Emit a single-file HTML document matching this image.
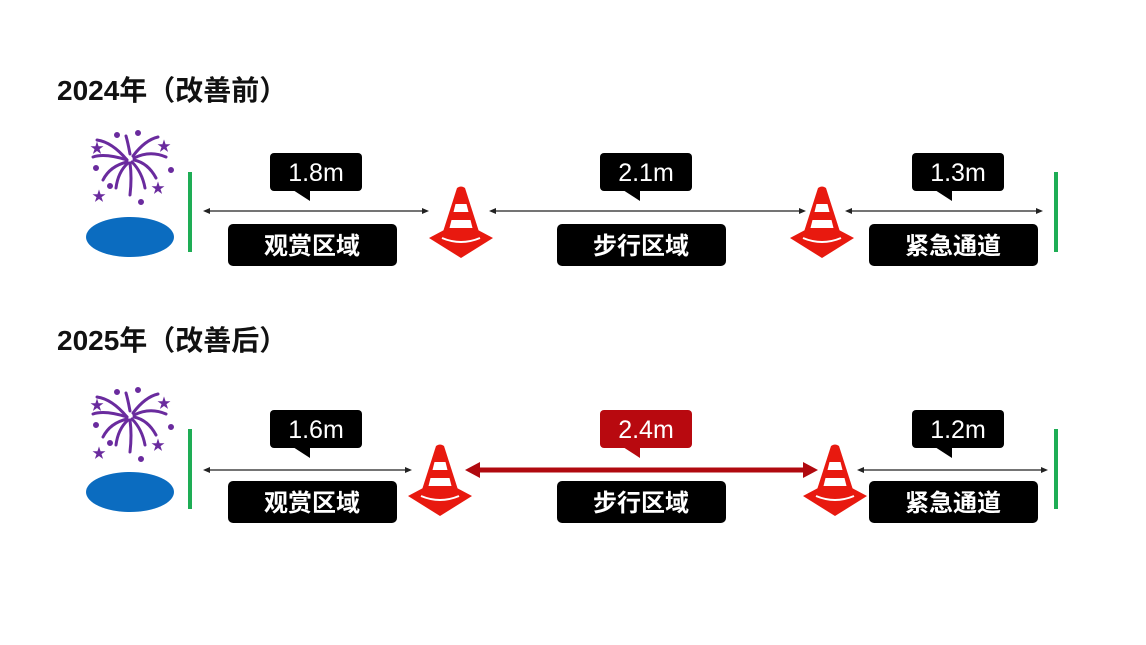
<!DOCTYPE html>
<html><head><meta charset="utf-8"><style>
html,body{margin:0;padding:0;background:#fff;}
svg{display:block;}
text{font-family:"Liberation Sans","Noto Sans CJK SC",sans-serif;}
</style></head><body>
<svg width="1146" height="645" viewBox="0 0 1146 645" xmlns="http://www.w3.org/2000/svg">
<defs>
<g id="cone">
  <path d="M-32,50 L0,33 L32,50 L0,70 Z" fill="#e8190f"/>
  <path d="M-4,0 Q0,-3 4,0 L20,50 Q0,58 -20,50 Z" fill="#e8190f"/>
  <path d="M-19,50 Q0,58 19,50" stroke="#fff" stroke-width="2" fill="none"/>
  <path d="M-5.5,16 L5.5,16 L7.5,24 L-7.5,24 Z" fill="#fff"/>
  <path d="M-9.5,32 L9.5,32 L11.5,40 L-11.5,40 Z" fill="#fff"/>
</g>
<g id="fw" stroke="#6a2b9e" stroke-width="3" stroke-linecap="round" fill="none">
  <path d="M127,160 Q112,142 97,140"/>
  <path d="M127,160 Q105,153 93,157"/>
  <path d="M127,162 Q110,166 103,180"/>
  <path d="M128,163 Q118,172 116,188"/>
  <path d="M130,163 Q132,178 130,195"/>
  <path d="M132,162 Q142,172 145,188"/>
  <path d="M134,160 Q148,163 156,178"/>
  <path d="M134,158 Q150,150 166,157"/>
  <path d="M133,156 Q145,140 158,137"/>
  <path d="M130,154 Q128,143 126,136"/>
  <circle cx="117" cy="135" r="1.5" fill="#6a2b9e"/>
  <circle cx="138" cy="133" r="1.5" fill="#6a2b9e"/>
  <circle cx="96" cy="168" r="1.5" fill="#6a2b9e"/>
  <circle cx="171" cy="170" r="1.5" fill="#6a2b9e"/>
  <circle cx="141" cy="202" r="1.5" fill="#6a2b9e"/>
  <circle cx="110" cy="186" r="1.5" fill="#6a2b9e"/>
</g>
</defs>

<text x="57" y="100" font-size="28" font-weight="bold" fill="#111">2024年（改善前）</text>
<text x="57" y="350" font-size="28" font-weight="bold" fill="#111">2025年（改善后）</text>

<!-- ROW 1 -->
<use href="#fw"/>
<g fill="#6a2b9e" font-size="14" font-family="DejaVu Sans"><text x="90" y="153">★</text><text x="157" y="151">★</text><text x="92" y="201">★</text><text x="151" y="193">★</text></g>
<ellipse cx="130" cy="237" rx="44" ry="20" fill="#0b6cc0"/>
<rect x="188" y="172" width="4" height="80" fill="#1ead55"/>
<rect x="1054" y="172" width="4" height="80" fill="#1ead55"/>

<g stroke="#222" stroke-width="1.3">
<line x1="206" y1="211" x2="426" y2="211"/>
<line x1="492" y1="211" x2="803" y2="211"/>
<line x1="848" y1="211" x2="1040" y2="211"/>
</g>
<g fill="#222">
<path d="M203,211 L210,208 L210,214Z"/><path d="M429,211 L422,208 L422,214Z"/>
<path d="M489,211 L496,208 L496,214Z"/><path d="M806,211 L799,208 L799,214Z"/>
<path d="M845,211 L852,208 L852,214Z"/><path d="M1043,211 L1036,208 L1036,214Z"/>
</g>

<use href="#cone" x="461" y="188"/>
<use href="#cone" x="822" y="188"/>

<g fill="#000">
<rect x="270" y="153" width="92" height="38" rx="4"/><path d="M293,190 L310,190 L310,201 Z"/>
<rect x="600" y="153" width="92" height="38" rx="4"/><path d="M623,190 L640,190 L640,201 Z"/>
<rect x="912" y="153" width="92" height="38" rx="4"/><path d="M935,190 L952,190 L952,201 Z"/>
<rect x="228" y="224" width="169" height="42" rx="5"/>
<rect x="557" y="224" width="169" height="42" rx="5"/>
<rect x="869" y="224" width="169" height="42" rx="5"/>
</g>
<g fill="#fff" font-size="25" text-anchor="middle">
<text x="316" y="181">1.8m</text><text x="646" y="181">2.1m</text><text x="958" y="181">1.3m</text>
</g>
<g fill="#fff" font-size="24" font-weight="bold" text-anchor="middle">
<text x="312" y="254">观赏区域</text><text x="641" y="254">步行区域</text><text x="953" y="254">紧急通道</text>
</g>

<!-- ROW 2 -->
<g transform="translate(0,257)">
<use href="#fw"/>
<g fill="#6a2b9e" font-size="14" font-family="DejaVu Sans"><text x="90" y="153">★</text><text x="157" y="151">★</text><text x="92" y="201">★</text><text x="151" y="193">★</text></g>
<ellipse cx="130" cy="235" rx="44" ry="20" fill="#0b6cc0"/>
<rect x="188" y="172" width="4" height="80" fill="#1ead55"/>
<rect x="1054" y="172" width="4" height="80" fill="#1ead55"/>
<g stroke="#222" stroke-width="1.3">
<line x1="206" y1="213" x2="409" y2="213"/>
<line x1="860" y1="213" x2="1045" y2="213"/>
</g>
<g fill="#222">
<path d="M203,213 L210,210 L210,216Z"/><path d="M412,213 L405,210 L405,216Z"/>
<path d="M857,213 L864,210 L864,216Z"/><path d="M1048,213 L1041,210 L1041,216Z"/>
</g>
<line x1="478" y1="213" x2="805" y2="213" stroke="#b0090f" stroke-width="5"/>
<path d="M465,213 L480,205 L480,221Z" fill="#b0090f"/>
<path d="M818,213 L803,205 L803,221Z" fill="#b0090f"/>
<use href="#cone" x="440" y="189"/>
<use href="#cone" x="835" y="189"/>
<g fill="#000">
<rect x="270" y="153" width="92" height="38" rx="4"/><path d="M293,190 L310,190 L310,201 Z"/>
<rect x="912" y="153" width="92" height="38" rx="4"/><path d="M935,190 L952,190 L952,201 Z"/>
<rect x="228" y="224" width="169" height="42" rx="5"/>
<rect x="557" y="224" width="169" height="42" rx="5"/>
<rect x="869" y="224" width="169" height="42" rx="5"/>
</g>
<g fill="#b8090f">
<rect x="600" y="153" width="92" height="38" rx="4"/><path d="M623,190 L640,190 L640,201 Z"/>
</g>
<g fill="#fff" font-size="25" text-anchor="middle">
<text x="316" y="181">1.6m</text><text x="646" y="181">2.4m</text><text x="958" y="181">1.2m</text>
</g>
<g fill="#fff" font-size="24" font-weight="bold" text-anchor="middle">
<text x="312" y="254">观赏区域</text><text x="641" y="254">步行区域</text><text x="953" y="254">紧急通道</text>
</g>
</g>
</svg>
</body></html>
